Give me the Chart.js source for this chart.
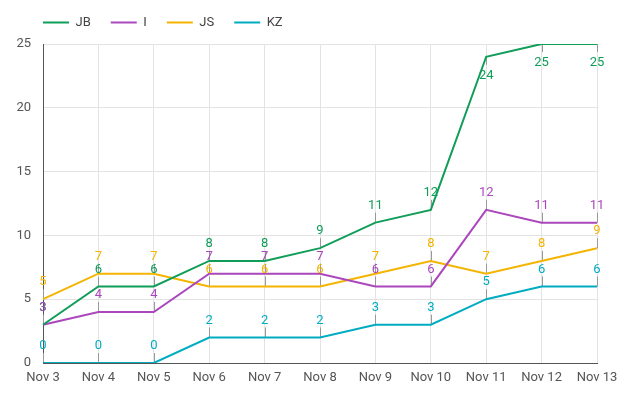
<!DOCTYPE html>
<html>
<head>
<meta charset="utf-8">
<script src="https://cdn.jsdelivr.net/npm/chart.js@4.4.1/dist/chart.umd.min.js"></script>
<style>
html, body { margin: 0; padding: 0; background: #fff; }
</style>
</head>
<body>
<canvas id="chart" width="632" height="400"></canvas>
<script>
// Data
const days = ['Nov 3', 'Nov 4', 'Nov 5', 'Nov 6', 'Nov 7', 'Nov 8', 'Nov 9', 'Nov 10', 'Nov 11', 'Nov 12', 'Nov 13'];
const jbValues = [3, 6, 6, 8, 8, 9, 11, 12, 24, 25, 25];
const iValues = [3, 4, 4, 7, 7, 7, 6, 6, 12, 11, 11];
const jsValues = [5, 7, 7, 6, 6, 6, 7, 8, 7, 8, 9];
const kzValues = [0, 0, 0, 2, 2, 2, 3, 3, 5, 6, 6];
const yTicks = [0, 5, 10, 15, 20, 25];

const seriesNames = ['JB', 'I', 'JS', 'KZ'];
const seriesColors = ['#0f9d58', '#ab47bc', '#f4b400', '#00acc1'];

// Font
Chart.defaults.font.family = 'Roboto, "Noto Sans", sans-serif';
Chart.defaults.font.size = 13;
Chart.defaults.color = '#444';

// Annotation stems + labels
const annotationPlugin = {
    id: 'annotations',
    beforeDatasetsDraw(chart) {
        const ctx = chart.ctx;
        const top = chart.chartArea.top;
        ctx.save();
        ctx.strokeStyle = '#999';
        ctx.lineWidth = 1;
        chart.data.datasets.forEach((ds, i) => {
            chart.getDatasetMeta(i).data.forEach((pt) => {
                const x = Math.round(pt.x) + 0.5;
                const above = pt.y - 23 >= top;
                ctx.beginPath();
                ctx.moveTo(x, pt.y);
                ctx.lineTo(x, above ? pt.y - 10 : pt.y + 8);
                ctx.stroke();
            });
        });
        ctx.restore();
    },
    afterDatasetsDraw(chart) {
        const ctx = chart.ctx;
        const top = chart.chartArea.top;
        ctx.save();
        ctx.font = '13px Roboto, "Noto Sans", sans-serif';
        ctx.textAlign = 'center';
        ctx.textBaseline = 'middle';
        chart.data.datasets.forEach((ds, i) => {
            ctx.fillStyle = ds.borderColor;
            chart.getDatasetMeta(i).data.forEach((pt, j) => {
                const above = pt.y - 23 >= top;
                ctx.fillText(String(ds.data[j]), pt.x, above ? pt.y - 17 : pt.y + 19);
            });
        });
        ctx.restore();
    }
};

// Legend placement
const legendPlacement = {
    id: 'legendPlacement',
    beforeUpdate(chart) {
        const legend = chart.legend;
        if (legend && !legend._patched) {
            const fit = legend.fit;
            legend.fit = function () {
                fit.call(this);
                this.height = 44;
            };
            legend._patched = true;
        }
    },
    afterLayout(chart) {
        chart.legend.left = 23;
        chart.legend.top = -4;
    }
};

const datasets = [jbValues, iValues, jsValues, kzValues].map((values, i) => ({
    label: seriesNames[i],
    data: values,
    borderColor: seriesColors[i],
    backgroundColor: seriesColors[i],
    borderWidth: 2,
    pointRadius: 0,
    tension: 0
}));

new Chart(document.getElementById('chart'), {
    type: 'line',
    data: { labels: days, datasets: datasets },
    options: {
        responsive: false,
        animation: false,
        layout: { padding: { left: 0, right: 35, top: 0, bottom: 0 } },
        plugins: {
            tooltip: { enabled: false },
            legend: {
                position: 'top',
                align: 'start',
                labels: {
                    boxWidth: 26,
                    boxHeight: 2,
                    padding: 20,
                    color: '#444',
                    font: { size: 13 },
                    generateLabels(chart) {
                        return Chart.defaults.plugins.legend.labels.generateLabels(chart).map((item) => {
                            item.lineWidth = 0;
                            return item;
                        });
                    }
                }
            }
        },
        scales: {
            x: {
                offset: false,
                grid: { color: '#e3e3e3', drawTicks: false },
                border: { color: '#555', width: 1 },
                ticks: { padding: 7, color: '#555', maxRotation: 0, autoSkip: false },
                afterFit(scale) { scale.height = 37; }
            },
            y: {
                min: 0,
                max: 25,
                afterBuildTicks(scale) { scale.ticks = yTicks.map((v) => ({ value: v })); },
                grid: { color: '#e3e3e3', drawTicks: false },
                border: { color: '#555', width: 1 },
                ticks: { padding: 12, color: '#555' },
                afterFit(scale) { scale.width = 43; }
            }
        }
    },
    plugins: [annotationPlugin, legendPlacement]
});
</script>
</body>
</html>
